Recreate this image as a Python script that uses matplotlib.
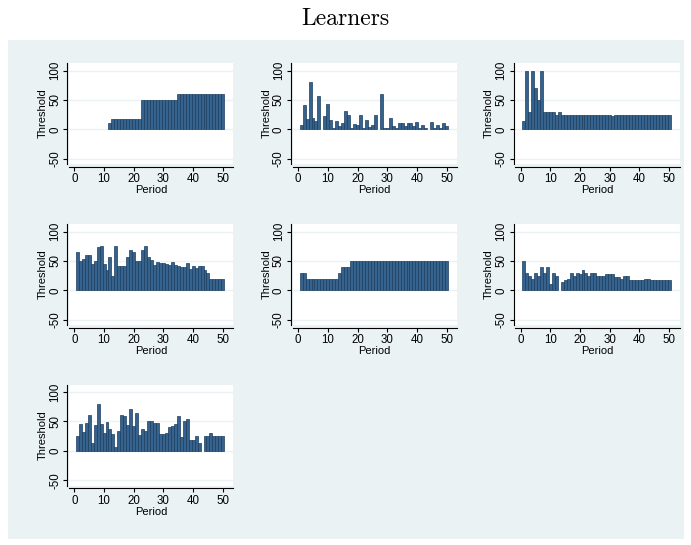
import numpy as np
import matplotlib
matplotlib.use("Agg")
import matplotlib.pyplot as plt
from matplotlib.patches import Rectangle

nan = np.nan
periods = np.arange(1, 51)

learner_1 = [nan] * 11 + [10] + [18] * 10 + [50] * 12 + [60] * 16
learner_2 = [7, 41, 17, 80, 20, 14, 56, nan, 23, 43,
             16, 2, 15, 6, 11, 32, 24, 2, 9, 8,
             24, 3, 16, 4, 7, 24, nan, 60, 3, 3,
             20, 5, 3, 10, 10, 6, 10, 11, 6, 12,
             3, 7, 3, nan, 12, 3, 7, 2, 10, 5]
learner_3 = [15, 100, 30, 100, 70, 50, 100, 30, 30, 30,
             30, 25, 30] + [25] * 17 + [23] + [25] * 19
learner_4 = [65, 50, 53, 61, 61, 45, 50, 73, 75, 45,
             35, 56, 24, 75, 42, 42, 42, 57, 68, 65,
             50, 50, 68, 75, 56, 52, 44, 48, 46, 46,
             45, 44, 48, 44, 41, 40, 40, 46, 37, 41,
             38, 41, 41, 34, 30, 19, 19, 20, 19, 19]
learner_5 = [30, 30] + [20] * 11 + [30] + [40] * 3 + [50] * 33
learner_6 = [50, 30, 25, 20, 30, 25, 40, 30, 40, 10,
             30, 25, nan, 15, 18, 20, 30, 25, 30, 28,
             35, 30, 25, 30, 30, 25, 25, 25, 28, 28,
             28, 22, 22, 20, 25, 25, 18, 18, 18, 17,
             17, 20, 20, 17, 17, 17, 17, 17, 17, 17]
learner_7 = [26, 46, 32, 47, 61, 14, 44, 79, 46, 31,
             49, 38, 29, 6, 33, 61, 59, 44, 71, 42,
             64, 27, 37, 34, 51, 51, 48, 48, 29, 29,
             30, 40, 42, 45, 60, 24, 50, 55, 19, 19,
             26, 14, nan, 26, 26, 30, 26, 26, 26, 26]

learners = [learner_1, learner_2, learner_3, learner_4,
            learner_5, learner_6, learner_7]

x_ticks = [0, 10, 20, 30, 40, 50]
y_ticks = [-50, 0, 50, 100]
title = "Learners"
x_label = "Period"
y_label = "Threshold"

W, H = 691, 545
BG = "#EAF2F3"
BAR_FACE = "#36638e"
BAR_EDGE = "#1c3d5e"

plt.rcParams["font.family"] = ["Liberation Sans", "DejaVu Sans"]
plt.rcParams["axes.unicode_minus"] = False

fig = plt.figure(figsize=(W / 100, H / 100), dpi=100, facecolor="white")

# shaded region holding the panels
fig.add_artist(Rectangle((8 / W, 1 - 539 / H), (684 - 8) / W, (539 - 40) / H,
                         transform=fig.transFigure, facecolor=BG,
                         edgecolor="none", zorder=0))

fig.text(0.5, 1 - 19 / H, title, fontfamily="cmr10", fontsize=17,
         ha="center", va="center")

col_left = [68.7, 292.5, 515.0]
row_top = [63.0, 224.0, 384.5]
pw, ph = 164.5, 101.0

for i, vals in enumerate(learners):
    r, c = divmod(i, 3)
    left, top = col_left[c], row_top[r]
    ax = fig.add_axes([left / W, 1 - (top + ph) / H, pw / W, ph / H])
    ax.set_facecolor("white")

    v = np.asarray(vals, dtype=float)
    ok = ~np.isnan(v)
    ax.bar(periods[ok], v[ok], width=1.0, color=BAR_FACE,
           edgecolor=BAR_EDGE, linewidth=0.5, zorder=3)

    ax.set_xlim(-1.9, 53.5)
    ax.set_ylim(-59, 113)
    ax.set_xticks(x_ticks)
    ax.set_yticks(y_ticks)
    ax.yaxis.grid(True, color=BG, linewidth=1.0, zorder=0)
    ax.set_axisbelow(True)

    for s in ("top", "right"):
        ax.spines[s].set_visible(False)
    ax.spines["left"].set_position(("outward", 1))
    ax.spines["bottom"].set_position(("outward", 2))
    for s in ("left", "bottom"):
        ax.spines[s].set_linewidth(0.8)
        ax.spines[s].set_color("black")

    ax.tick_params(direction="out", length=3, width=0.8, labelsize=8.3,
                   pad=1.5, colors="black")
    ax.tick_params(axis="y", labelrotation=90)
    for lab in ax.get_yticklabels():
        lab.set_va("center")

    ax.set_xlabel(x_label, fontsize=8, labelpad=0.2)
    ax.set_ylabel(y_label, fontsize=8, labelpad=1)

fig.savefig("out.png", dpi=100, facecolor="white")
